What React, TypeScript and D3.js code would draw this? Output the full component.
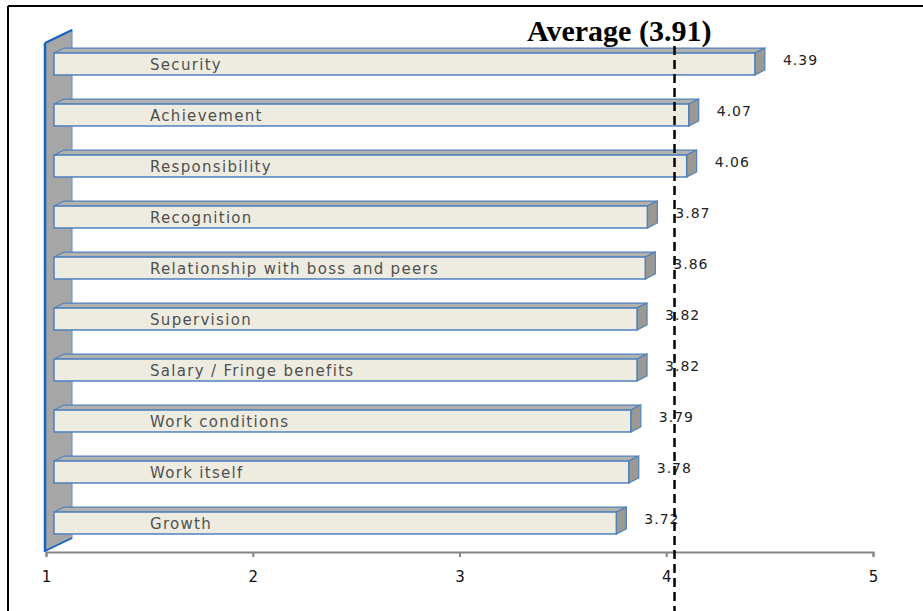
import { useEffect, useRef } from 'react';
import * as d3 from 'd3';

// chart data, top to bottom
const categories = [
  'Security',
  'Achievement',
  'Responsibility',
  'Recognition',
  'Relationship with boss and peers',
  'Supervision',
  'Salary / Fringe benefits',
  'Work conditions',
  'Work itself',
  'Growth',
];
const scores = [4.39, 4.07, 4.06, 3.87, 3.86, 3.82, 3.82, 3.79, 3.78, 3.72];
const xTicks = [1, 2, 3, 4, 5];
const averageLabel = 'Average (3.91)';
// where the dashed line sits on the axis in the picture
const averageLineAt = 4.04;

const W = 923;
const H = 611;

const App = () => {
  const svgRef = useRef<SVGSVGElement>(null);

  useEffect(() => {
    const svg = d3.select(svgRef.current);
    svg.selectAll('*').remove();

    const x = d3.scaleLinear().domain([1, 5]).range([46, 873]);
    const y = d3
      .scaleBand<string>()
      .domain(categories)
      .range([38.5, 548.5])
      .paddingInner(0.57)
      .paddingOuter(0.285);

    const axisY = 552;
    const front = 8; // front faces sit in front of the back wall
    const dx = 10;
    const dy = 5;
    const blue = '#4f81bd';

    // frame
    svg.append('line').attr('x1', 8).attr('x2', W).attr('y1', 6).attr('y2', 6)
      .attr('stroke', '#000').attr('stroke-width', 2);
    svg.append('line').attr('x1', 8).attr('x2', 8).attr('y1', 6).attr('y2', H)
      .attr('stroke', '#000').attr('stroke-width', 2);

    // back wall
    const wx0 = x(1) - 1;
    const wx1 = wx0 + 27;
    svg.append('path')
      .attr('d', `M${wx0},43 L${wx1},30 L${wx1},538 L${wx0},${axisY - 1} Z`)
      .attr('fill', '#a6a6a6')
      .attr('stroke', '#6d9bd1')
      .attr('stroke-width', 1.2);
    svg.append('line').attr('x1', wx0).attr('x2', wx0).attr('y1', 43).attr('y2', axisY)
      .attr('stroke', '#1565c0').attr('stroke-width', 2.5);
    svg.append('line').attr('x1', wx0).attr('x2', wx1).attr('y1', 43).attr('y2', 30)
      .attr('stroke', '#1565c0').attr('stroke-width', 2);
    svg.append('line').attr('x1', wx0).attr('x2', wx1).attr('y1', axisY - 1).attr('y2', 538)
      .attr('stroke', '#1565c0').attr('stroke-width', 1.5);

    // x axis
    const axis = svg.append('g').attr('transform', `translate(0,${axisY})`)
      .call(d3.axisBottom(x).tickValues(xTicks).tickFormat(d3.format('d')).tickSize(5).tickPadding(14));
    axis.attr('font-size', 15).attr('font-family', 'DejaVu Sans, sans-serif');
    axis.select('.domain').attr('stroke', '#868686').attr('stroke-width', 2);
    axis.selectAll('.tick line').attr('stroke', '#868686').attr('stroke-width', 2);
    axis.selectAll('.tick text').attr('fill', '#111');

    // bars
    const bars = svg.append('g').selectAll('g')
      .data(categories)
      .enter()
      .append('g');

    bars.each(function (c, i) {
      const g = d3.select(this);
      const x0 = x(1) + front;
      const x1 = x(scores[i]) + front;
      const y0 = y(c)!;
      const h = y.bandwidth();
      // top face
      g.append('path')
        .attr('d', `M${x0},${y0} L${x0 + dx},${y0 - dy} L${x1 + dx},${y0 - dy} L${x1},${y0} Z`)
        .attr('fill', '#b3b1ab')
        .attr('stroke', blue)
        .attr('stroke-width', 1.2);
      // side face
      g.append('path')
        .attr('d', `M${x1},${y0} L${x1 + dx},${y0 - dy} L${x1 + dx},${y0 + h - dy} L${x1},${y0 + h} Z`)
        .attr('fill', '#9c9992')
        .attr('stroke', blue)
        .attr('stroke-width', 1.2);
      // front face
      g.append('rect')
        .attr('x', x0)
        .attr('y', y0)
        .attr('width', x1 - x0)
        .attr('height', h)
        .attr('fill', '#eeece1')
        .attr('stroke', blue)
        .attr('stroke-width', 1.5);
      // category name
      g.append('text')
        .attr('x', x(1) + 104)
        .attr('y', y0 + h / 2 + 1)
        .attr('dominant-baseline', 'middle')
        .attr('font-family', 'DejaVu Sans, sans-serif')
        .attr('font-size', 15)
        .attr('letter-spacing', 1.3)
        .attr('fill', '#505050')
        .text(c);
      // value
      g.append('text')
        .attr('x', x(scores[i]) + 36)
        .attr('y', y0 + h / 2 - 3)
        .attr('dominant-baseline', 'middle')
        .attr('font-family', 'DejaVu Sans, sans-serif')
        .attr('font-size', 14)
        .attr('letter-spacing', 1)
        .attr('fill', '#222')
        .text(scores[i].toFixed(2));
    });

    // average line + label
    svg.append('line')
      .attr('x1', x(averageLineAt)).attr('x2', x(averageLineAt))
      .attr('y1', 46).attr('y2', H)
      .attr('stroke', '#000')
      .attr('stroke-width', 2.5)
      .attr('stroke-dasharray', '9,5');
    svg.append('text')
      .attr('x', 527)
      .attr('y', 41)
      .attr('font-family', 'Liberation Serif, Times New Roman, serif')
      .attr('font-weight', 'bold')
      .attr('font-size', 30)
      .attr('fill', '#000')
      .text(averageLabel);
  }, []);

  return (
    <svg
      ref={svgRef}
      width={W}
      height={H}
      style={{ position: 'absolute', left: 0, top: 0, background: '#fff' }}
    />
  );
};

export default App;
